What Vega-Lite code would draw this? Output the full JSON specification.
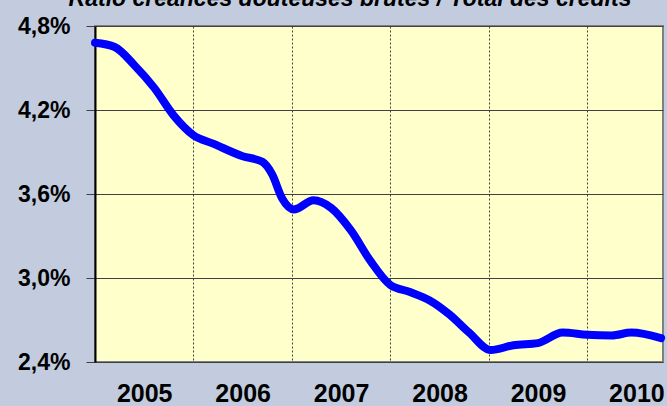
{
  "$schema": "https://vega.github.io/schema/vega-lite/v6.json",
  "width": 568,
  "height": 336,
  "autosize": {"type": "none"},
  "padding": {"left": 95, "top": 26, "right": 4, "bottom": 44},
  "background": "#C2CCDE",
  "config": {
    "view": {"fill": "#FFFFCC", "stroke": "#808080", "strokeWidth": 2},
    "font": "Liberation Sans"
  },
  "title": {
    "text": "Ratio créances douteuses brutes / Total des crédits",
    "font": "Liberation Sans",
    "fontSize": 23,
    "fontWeight": "bold",
    "fontStyle": "italic",
    "color": "#000000",
    "baseline": "alphabetic",
    "offset": 0,
    "dy": 14,
    "dx": -29
  },
  "data": {
    "values": [
      {"t": 2005.0, "ratio": 4.68},
      {"t": 2005.2, "ratio": 4.65},
      {"t": 2005.4, "ratio": 4.52},
      {"t": 2005.6, "ratio": 4.36},
      {"t": 2005.8, "ratio": 4.16},
      {"t": 2006.0, "ratio": 4.02},
      {"t": 2006.2, "ratio": 3.96},
      {"t": 2006.5, "ratio": 3.87},
      {"t": 2006.7, "ratio": 3.83},
      {"t": 2006.8, "ratio": 3.74},
      {"t": 2006.9, "ratio": 3.57},
      {"t": 2007.02, "ratio": 3.49},
      {"t": 2007.22, "ratio": 3.555},
      {"t": 2007.4, "ratio": 3.5},
      {"t": 2007.6, "ratio": 3.34},
      {"t": 2007.8, "ratio": 3.12},
      {"t": 2008.0, "ratio": 2.95},
      {"t": 2008.2, "ratio": 2.9},
      {"t": 2008.4, "ratio": 2.84},
      {"t": 2008.6, "ratio": 2.74},
      {"t": 2008.8, "ratio": 2.61},
      {"t": 2009.02, "ratio": 2.485},
      {"t": 2009.25, "ratio": 2.52},
      {"t": 2009.5, "ratio": 2.535},
      {"t": 2009.75, "ratio": 2.61},
      {"t": 2010.0, "ratio": 2.595},
      {"t": 2010.25, "ratio": 2.59},
      {"t": 2010.45, "ratio": 2.61},
      {"t": 2010.75, "ratio": 2.57}
    ]
  },
  "resolve": {"axis": {"x": "independent"}},
  "layer": [
    {
      "mark": {"type": "line", "strokeOpacity": 0},
      "encoding": {
        "x": {
          "field": "t", "type": "quantitative",
          "scale": {"domain": [2005, 2010.77], "nice": false, "zero": false},
          "axis": {
            "orient": "bottom", "title": null, "labels": false, "ticks": false, "domain": false,
            "grid": true, "values": [2006, 2007, 2008, 2009, 2010],
            "gridColor": "#404040", "gridDash": [2, 2], "gridWidth": 1,
            "minExtent": 0, "maxExtent": 0
          }
        },
        "y": {"field": "ratio", "type": "quantitative"}
      }
    },
    {
      "mark": {"type": "line", "color": "#0000FF", "strokeWidth": 8, "interpolate": "monotone", "strokeCap": "round", "strokeJoin": "round"},
      "encoding": {
        "x": {
          "field": "t", "type": "quantitative",
          "scale": {"domain": [2005, 2010.77], "nice": false, "zero": false},
          "axis": {
            "orient": "bottom", "title": null, "grid": false, "ticks": false, "domain": false,
            "values": [2005.5, 2006.5, 2007.5, 2008.5, 2009.5, 2010.5],
            "labelExpr": "floor(datum.value)",
            "labelFontSize": 25, "labelFontWeight": "bold", "labelColor": "#000000",
            "labelPadding": 19, "labelOverlap": false, "labelFlush": false
          }
        },
        "y": {
          "field": "ratio", "type": "quantitative",
          "scale": {"domain": [2.4, 4.8], "nice": false, "zero": false},
          "axis": {
            "title": null,
            "values": [2.4, 3.0, 3.6, 4.2, 4.8],
            "labelExpr": "replace(format(datum.value, '.1f'), '.', ',') + '%'",
            "labelFontSize": 23, "labelFontWeight": "bold", "labelColor": "#000000",
            "labelPadding": 16, "labelOverlap": false, "labelFlush": false,
            "grid": true, "gridColor": "#404040", "gridWidth": 1,
            "domain": true, "domainColor": "#000000", "domainWidth": 2,
            "ticks": true, "tickSize": 9, "tickColor": "#404040", "tickWidth": 1
          }
        }
      }
    }
  ]
}
